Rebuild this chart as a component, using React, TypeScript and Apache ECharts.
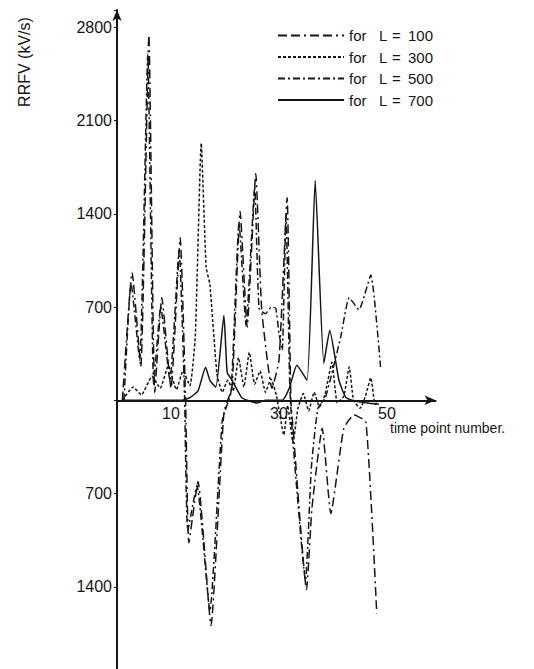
import React, { useEffect, useRef } from "react";
import * as echarts from "echarts";

// Time points (x) and RRFV values (kV/s) for each series
const tL100 = [1.0, 2.8, 4.4, 5.9, 7.0, 8.3, 10.0, 11.7, 12.7, 13.3, 15.0, 17.4, 19.8, 21.3, 22.8, 24.1, 25.7, 26.8, 28.7, 30.0, 31.5, 32.2, 32.6, 35.1, 36.1, 38.0, 39.6, 42.0, 43.9, 46.1, 48.1];
const vL100 = [0, 960, 250, 2740, 60, 770, 90, 1220, 0, -1070, -610, -1690, -90, 100, 1420, 550, 1700, 680, 90, 300, 1520, 0, -210, -1420, -810, -210, -850, -210, -110, -165, -1600];

const tL300 = [1.0, 3.0, 4.5, 6.5, 8.0, 9.5, 11.0, 12.2, 13.5, 14.5, 15.6, 16.5, 17.2, 18.5, 19.5, 20.5, 21.5, 22.5, 23.5, 24.5, 25.5, 26.5, 27.5, 28.5, 29.5, 30.9, 31.6, 32.6, 33.5, 34.5, 35.5, 36.5, 37.5, 38.5, 39.8, 40.8, 42.0, 43.0, 43.8, 45.0, 46.0, 47.0, 47.8, 48.5];
const vL300 = [0, 100, 40, 180, 90, 260, 80, 220, 110, 480, 1930, 1000, 870, 200, 60, 150, 70, 320, 100, 360, 120, 220, 60, 160, 40, -260, -40, -320, -60, 50, -80, 60, -50, 40, 285, -20, 30, 250, 0, -60, 30, 170, -30, 0];

const tL500 = [1.3, 2.6, 4.2, 5.7, 6.8, 8.1, 9.8, 11.5, 12.5, 13.1, 14.8, 17.2, 19.5, 21.1, 22.6, 23.9, 25.5, 26.3, 27.5, 28.6, 29.4, 30.0, 30.6, 31.3, 32.0, 32.6, 34.9, 36.0, 37.2, 38.6, 41.4, 43.0, 44.8, 47.0, 48.8];
const vL500 = [0, 880, 300, 2600, 120, 700, 150, 1130, 40, -980, -640, -1580, -150, 60, 1330, 560, 1600, 690, 650, 700, 690, 500, 375, 1400, 100, -320, -1350, -500, -60, 20, 470, 770, 680, 940, 250];

const tL700 = [1, 12, 13.5, 15.0, 16.4, 17.2, 18.3, 19.8, 20.4, 21.3, 23.1, 24.5, 26.0, 27.5, 30.6, 31.9, 33.3, 35.2, 36.7, 38.3, 39.4, 41.1, 42.4, 44.5, 46.7, 48.5];
const vL700 = [0, 0, 20, 70, 248, 150, 98, 638, 210, 150, 20, -5, -20, 0, 0, 90, 263, 150, 1650, 278, 525, 150, 20, -10, -22, -30];

const seriesNames = ["for L = 100", "for L = 300", "for L = 500", "for L = 700"];
const xTickLabels = [10, 30, 50];
const yTickLabels = [700, 1400, 2100, 2800];

const FONT = "'Liberation Sans', Arial, Helvetica, sans-serif";
const INK = "#161616";

const zip = (t: number[], v: number[]) => t.map((x, i) => [x, v[i]]);

export default function App() {
  const ref = useRef<HTMLDivElement>(null);

  useEffect(() => {
    if (!ref.current) return;
    const chart = echarts.init(ref.current, undefined, { renderer: "svg" });
    const dashes: any[] = [[9, 4, 9, 4, 2, 4], [3, 2], [7, 3, 2, 3], "solid"];
    const datas = [zip(tL100, vL100), zip(tL300, vL300), zip(tL500, vL500), zip(tL700, vL700)];

    const yMin = -2100;
    const yMax = 2930;
    const gridTop = 10;
    const gridH = 670;
    const zeroY = gridTop + (yMax / (yMax - yMin)) * gridH;
    const xOffset = -(gridTop + gridH - zeroY);

    chart.setOption({
      animation: false,
      backgroundColor: "#ffffff",
      grid: {
        left: 117,
        top: gridTop,
        width: 318.6,
        height: gridH,
        containLabel: false,
        outerBoundsMode: "none",
      },
      xAxis: {
        type: "value",
        min: 0,
        max: 59,
        interval: 10,
        offset: xOffset,
        axisLine: {
          onZero: false,
          lineStyle: { color: INK, width: 2 },
          symbol: ["none", "arrow"],
          symbolSize: [7, 11],
        },
        axisTick: { show: false },
        splitLine: { show: false },
        axisLabel: {
          margin: 5,
          color: INK,
          fontSize: 16,
          fontFamily: FONT,
          formatter: (v: number) => (xTickLabels.includes(v) ? String(v) : ""),
        },
      },
      yAxis: {
        type: "value",
        min: yMin,
        max: yMax,
        interval: 700,
        axisLine: {
          onZero: false,
          lineStyle: { color: INK, width: 2 },
          symbol: ["none", "arrow"],
          symbolSize: [7, 11],
        },
        axisTick: { show: true, length: 3, lineStyle: { color: INK } },
        splitLine: { show: false },
        axisLabel: {
          margin: 5,
          color: INK,
          fontSize: 16,
          fontFamily: FONT,
          formatter: (v: number) => (yTickLabels.includes(Math.abs(v)) && v !== -2100 ? String(Math.abs(v)) : ""),
        },
      },
      legend: {
        orient: "vertical",
        left: 272,
        top: 23,
        itemWidth: 66,
        itemHeight: 14,
        itemGap: 6.5,
        selectedMode: false,
        data: seriesNames,
        itemStyle: { opacity: 0 },
        formatter: (name: string) => `{a|for}{l|L}{e|=}{n|${name.split("= ")[1]}}`,
        textStyle: {
          color: INK,
          fontSize: 15,
          fontFamily: FONT,
          rich: {
            a: { width: 30, fontSize: 15, fontFamily: FONT, color: INK },
            l: { width: 13, fontSize: 15, fontFamily: FONT, color: INK },
            e: { width: 16, fontSize: 15, fontFamily: FONT, color: INK },
            n: { fontSize: 15, fontFamily: FONT, color: INK },
          },
        },
      },
      graphic: [
        {
          type: "text",
          x: 24,
          y: 62,
          rotation: Math.PI / 2,
          style: {
            text: "RRFV (kV/s)",
            fill: INK,
            font: `16px ${FONT}`,
            align: "center",
            verticalAlign: "middle",
          },
        },
        {
          type: "text",
          x: 390,
          y: 428,
          style: {
            text: "time point number.",
            fill: INK,
            font: `14px ${FONT}`,
            align: "left",
            verticalAlign: "middle",
          },
        },
      ],
      series: seriesNames.map((name, i) => ({
        name,
        type: "line",
        data: datas[i],
        symbol: "none",
        smooth: 0.15,
        lineStyle: { color: INK, width: i === 3 ? 1.5 : 1.5, type: dashes[i] },
        itemStyle: { color: INK },
      })),
    });

    return () => chart.dispose();
  }, []);

  return (
    <div
      ref={ref}
      style={{ position: "fixed", left: 0, top: 0, width: 534, height: 669, background: "#fff" }}
    />
  );
}
